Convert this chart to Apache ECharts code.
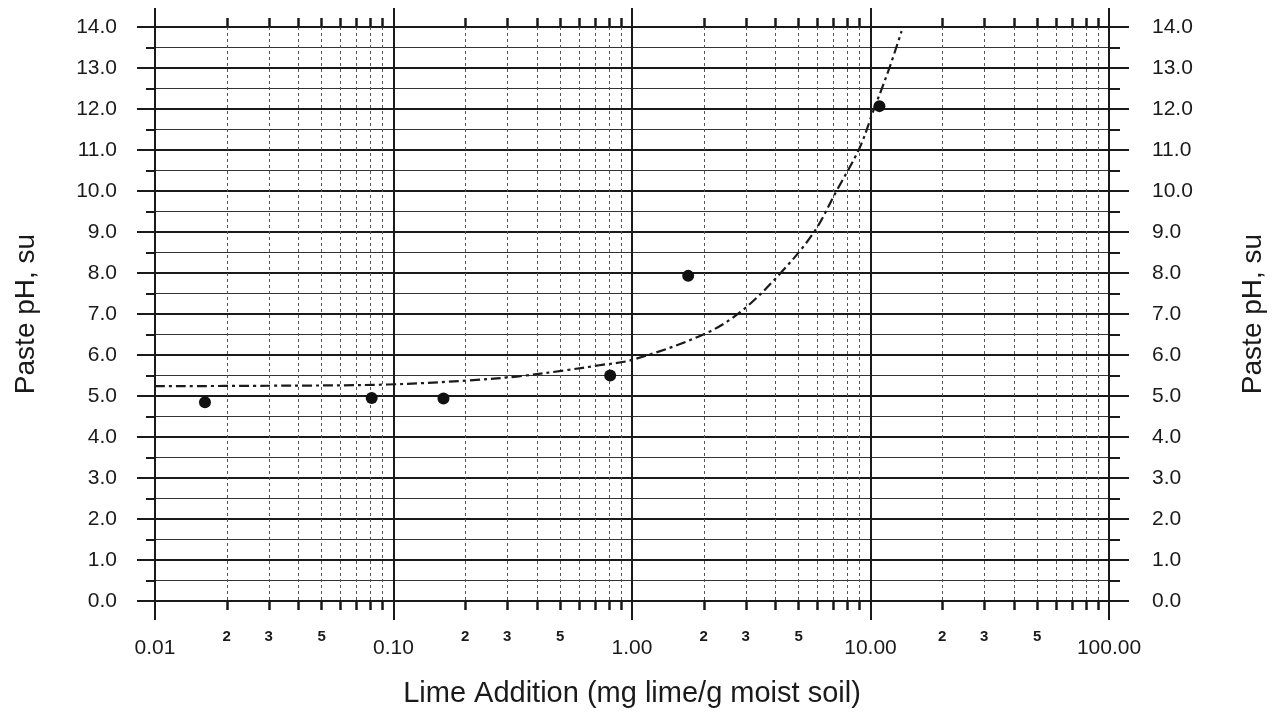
<!DOCTYPE html>
<html>
<head>
<meta charset="utf-8">
<script src="https://cdn.jsdelivr.net/npm/echarts@6/dist/echarts.min.js"></script>
<style>
  html, body { margin: 0; padding: 0; background: #fff; }
  #myChart { width: 1279px; height: 716px; }
</style>
</head>
<body>
<div id="myChart"></div>
<script>
// measured points (mg lime / g moist soil, paste pH)
let limeAdd = [0.0162, 0.081, 0.162, 0.81, 1.72, 10.9]
let pastePH = [4.85, 4.95, 4.94, 5.5, 7.93, 12.07]
// fitted curve
let fitLime = [0.01, 0.03, 0.094, 0.207, 0.335, 0.53, 0.73, 1.0, 1.99, 2.85, 4.2, 5.8, 7.2, 9.0, 10.2, 12.0, 13.5]
let fitPH = [5.24, 5.25, 5.28, 5.38, 5.48, 5.63, 5.75, 5.88, 6.5, 7.05, 8.0, 9.0, 10.0, 11.05, 11.9, 13.0, 13.9]
// log cycle subdivisions and the ones that get a label
let minorTicks = [0.02, 0.03, 0.04, 0.05, 0.06, 0.07, 0.08, 0.09,
  0.2, 0.3, 0.4, 0.5, 0.6, 0.7, 0.8, 0.9,
  2, 3, 4, 5, 6, 7, 8, 9,
  20, 30, 40, 50, 60, 70, 80, 90]
let minorLabels = [0.02, 0.03, 0.05, 0.2, 0.3, 0.5, 2, 3, 5, 20, 30, 50]

let font = 'Liberation Sans'
let ink = '#1a1a1a'

function leadDigit(v) {
  let p = Math.pow(10, Math.floor(Math.log10(v) + 1e-9))
  return String(Math.round(v / p))
}

let myChart = echarts.init(document.getElementById('myChart'))

let logBase = {
  type: 'log',
  logBase: 10,
  min: 0.01,
  max: 100,
  axisLine: { show: false }
}

let options = {
  animation: false,
  backgroundColor: '#fff',
  textStyle: { fontFamily: font, color: ink },
  grid: { left: 155, right: 170, top: 27, bottom: 115 },
  xAxis: [
    Object.assign({}, logBase, {
      position: 'bottom',
      name: 'Lime Addition (mg lime/g moist soil)',
      nameLocation: 'middle',
      nameGap: 78,
      nameTextStyle: { fontSize: 29, color: ink, fontFamily: font },
      axisTick: { show: true, length: 19, lineStyle: { color: ink, width: 2 } },
      axisLabel: { fontSize: 21, color: ink, margin: 37, formatter: v => v.toFixed(2) },
      splitLine: { show: true, lineStyle: { color: ink, width: 2 } }
    }),
    Object.assign({}, logBase, {
      position: 'bottom',
      axisTick: { show: true, length: 9, customValues: minorTicks, lineStyle: { color: ink, width: 2.5 } },
      axisLabel: { customValues: minorLabels, fontSize: 15, fontWeight: 'bold', color: ink, margin: 28, formatter: v => leadDigit(v) },
      splitLine: { show: true, lineStyle: { color: '#555', width: 1, type: [3, 3] } }
    }),
    Object.assign({}, logBase, {
      position: 'top',
      axisTick: { show: true, length: 19, lineStyle: { color: ink, width: 2 } },
      axisLabel: { show: false },
      splitLine: { show: false }
    }),
    Object.assign({}, logBase, {
      position: 'top',
      axisTick: { show: true, length: 9, customValues: minorTicks, lineStyle: { color: ink, width: 2.5 } },
      axisLabel: { show: false },
      splitLine: { show: false }
    })
  ],
  yAxis: [
    {
      type: 'value',
      position: 'left',
      min: 0,
      max: 14,
      interval: 1,
      name: 'Paste pH, su',
      nameLocation: 'middle',
      nameRotate: 90,
      nameGap: 115,
      nameTextStyle: { fontSize: 28, color: ink, fontFamily: font },
      axisLine: { show: true, lineStyle: { color: ink, width: 2 } },
      axisTick: { show: true, length: 18, lineStyle: { color: ink, width: 2 } },
      minorTick: { show: true, splitNumber: 2, length: 9, lineStyle: { color: ink, width: 2 } },
      axisLabel: { fontSize: 21, color: ink, margin: 38, formatter: v => v.toFixed(1) },
      splitLine: { show: true, lineStyle: { color: ink, width: 2 } },
      minorSplitLine: { show: true, lineStyle: { color: '#333', width: 1.2 } }
    },
    {
      type: 'value',
      position: 'right',
      min: 0,
      max: 14,
      interval: 1,
      name: 'Paste pH, su',
      nameLocation: 'middle',
      nameRotate: 90,
      nameGap: 130,
      nameTextStyle: { fontSize: 28, color: ink, fontFamily: font },
      axisLine: { show: true, lineStyle: { color: ink, width: 2 } },
      axisTick: { show: true, length: 20, lineStyle: { color: ink, width: 2 } },
      minorTick: { show: true, splitNumber: 2, length: 11, lineStyle: { color: ink, width: 2 } },
      axisLabel: { fontSize: 21, color: ink, margin: 43, formatter: v => v.toFixed(1) },
      splitLine: { show: false }
    }
  ],
  series: [
    {
      name: 'fit',
      type: 'line',
      smooth: 0.35,
      showSymbol: false,
      data: fitLime.map((x, i) => [x, fitPH[i]]),
      lineStyle: { color: ink, width: 2.2, type: [10, 4, 3, 4] },
      z: 5
    },
    {
      name: 'measured',
      type: 'scatter',
      symbol: 'circle',
      symbolSize: 12,
      data: limeAdd.map((x, i) => [x, pastePH[i]]),
      itemStyle: { color: '#111', opacity: 1 },
      z: 6
    }
  ]
}

myChart.setOption(options)
</script>
</body>
</html>
